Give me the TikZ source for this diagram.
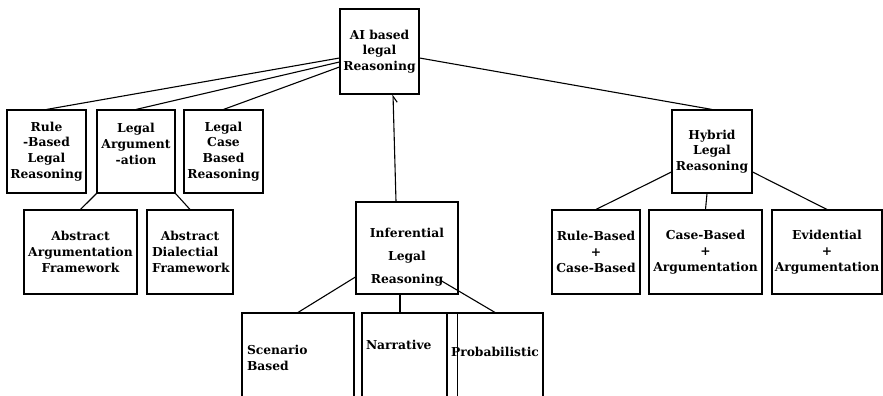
\documentclass[tikz,border=0pt]{standalone}
\usepackage{fontspec}
\setmainfont{DejaVu Serif}
\usetikzlibrary{arrows.meta}
\tikzset{
  box/.style={draw, line width=1.1pt, inner sep=0pt, align=center,
    font=\bfseries\fontsize{12.3}{15.8}\selectfont},
  link/.style={line width=1.1pt},
}
\begin{document}
\begin{tikzpicture}[x=1pt, y=-1pt]
\useasboundingbox (0,0) rectangle (883,396);

\node[box, minimum width=79, minimum height=85] (ai) at (379.5,51.5) {AI based\\legal\\Reasoning};

\node[box, minimum width=79, minimum height=83] (rule) at (46.5,151.5) {Rule\\-Based\\Legal\\Reasoning};
\node[box, minimum width=78, minimum height=83] (arg) at (136,151.5) {Legal\\Argument\\-ation\\\mbox{}};
\node[box, minimum width=79, minimum height=83] (case) at (223.5,151.5) {Legal\\Case\\Based\\Reasoning};
\node[box, minimum width=80, minimum height=83] (hyb) at (712,151.5) {Hybrid\\Legal\\Reasoning};

\node[box, minimum width=113, minimum height=84] (absarg) at (80.5,252) {Abstract\\Argumentation\\Framework};
\node[box, minimum width=86, minimum height=84] (absdia) at (190,252) {Abstract\\\makebox[76pt][l]{Dialectial}\\\makebox[76pt][l]{Framework}};
\node[box, minimum width=102, minimum height=92] (inf) at (407,248) {\rule{0pt}{28pt}Inferential\\[7pt]Legal\\[7pt]Reasoning};
\node[box, minimum width=88, minimum height=84] (rc) at (596,252) {Rule-Based\\+\\Case-Based};
\node[box, minimum width=113, minimum height=84] (ca) at (705.5,252) {Case-Based\\+\\Argumentation};
\node[box, minimum width=110, minimum height=84] (ev) at (827,252) {Evidential\\+\\Argumentation};

\node[box, minimum width=112, minimum height=87, align=left, text width=102] (scen) at (298,356.5) {\rule{0pt}{12pt}Scenario\\Based};
\node[box, minimum width=85, minimum height=87, align=left, text width=77] (narr) at (404.5,356.5) {Narrative\\[8pt]\mbox{}};
\node[box, minimum width=96, minimum height=87] (prob) at (495,356.5) {Probabilistic\\[-6pt]\mbox{}};
\draw[link] ([xshift=11pt]prob.north west) -- ([xshift=11pt]prob.south west);

\draw[link] ([yshift=-6.5pt]ai.west) -- (rule.north);
\draw[link] ([yshift=-10.5pt]ai.west) -- (arg.north);
\draw[link] ([yshift=-15.5pt]ai.west) -- (case.north);
\draw[link] ([yshift=-6.5pt]ai.east) -- (hyb.north);
\draw[link, -{Straight Barb[harpoon, swap, length=6pt, width=8pt]}] ([xshift=-11pt]inf.north) -- ([xshift=13.5pt]ai.south);

\draw[link] (arg.south west) -- (absarg.north);
\draw[link] (arg.south east) -- (absdia.north);

\draw[link] ([yshift=-20.5pt]hyb.west) -- (rc.north);
\draw[link] ([xshift=-5pt]hyb.south) -- (ca.north);
\draw[link] ([yshift=-20.5pt]hyb.east) -- (ev.north);

\draw[link] ([yshift=-29pt]inf.west) -- (scen.north);
\draw[line width=2.2pt] ([xshift=-7pt]inf.south) -- ([xshift=-4.5pt]narr.north);
\draw[link] ([xshift=33pt, yshift=-32pt]inf.center) -- (prob.north);

\end{tikzpicture}
\end{document}
